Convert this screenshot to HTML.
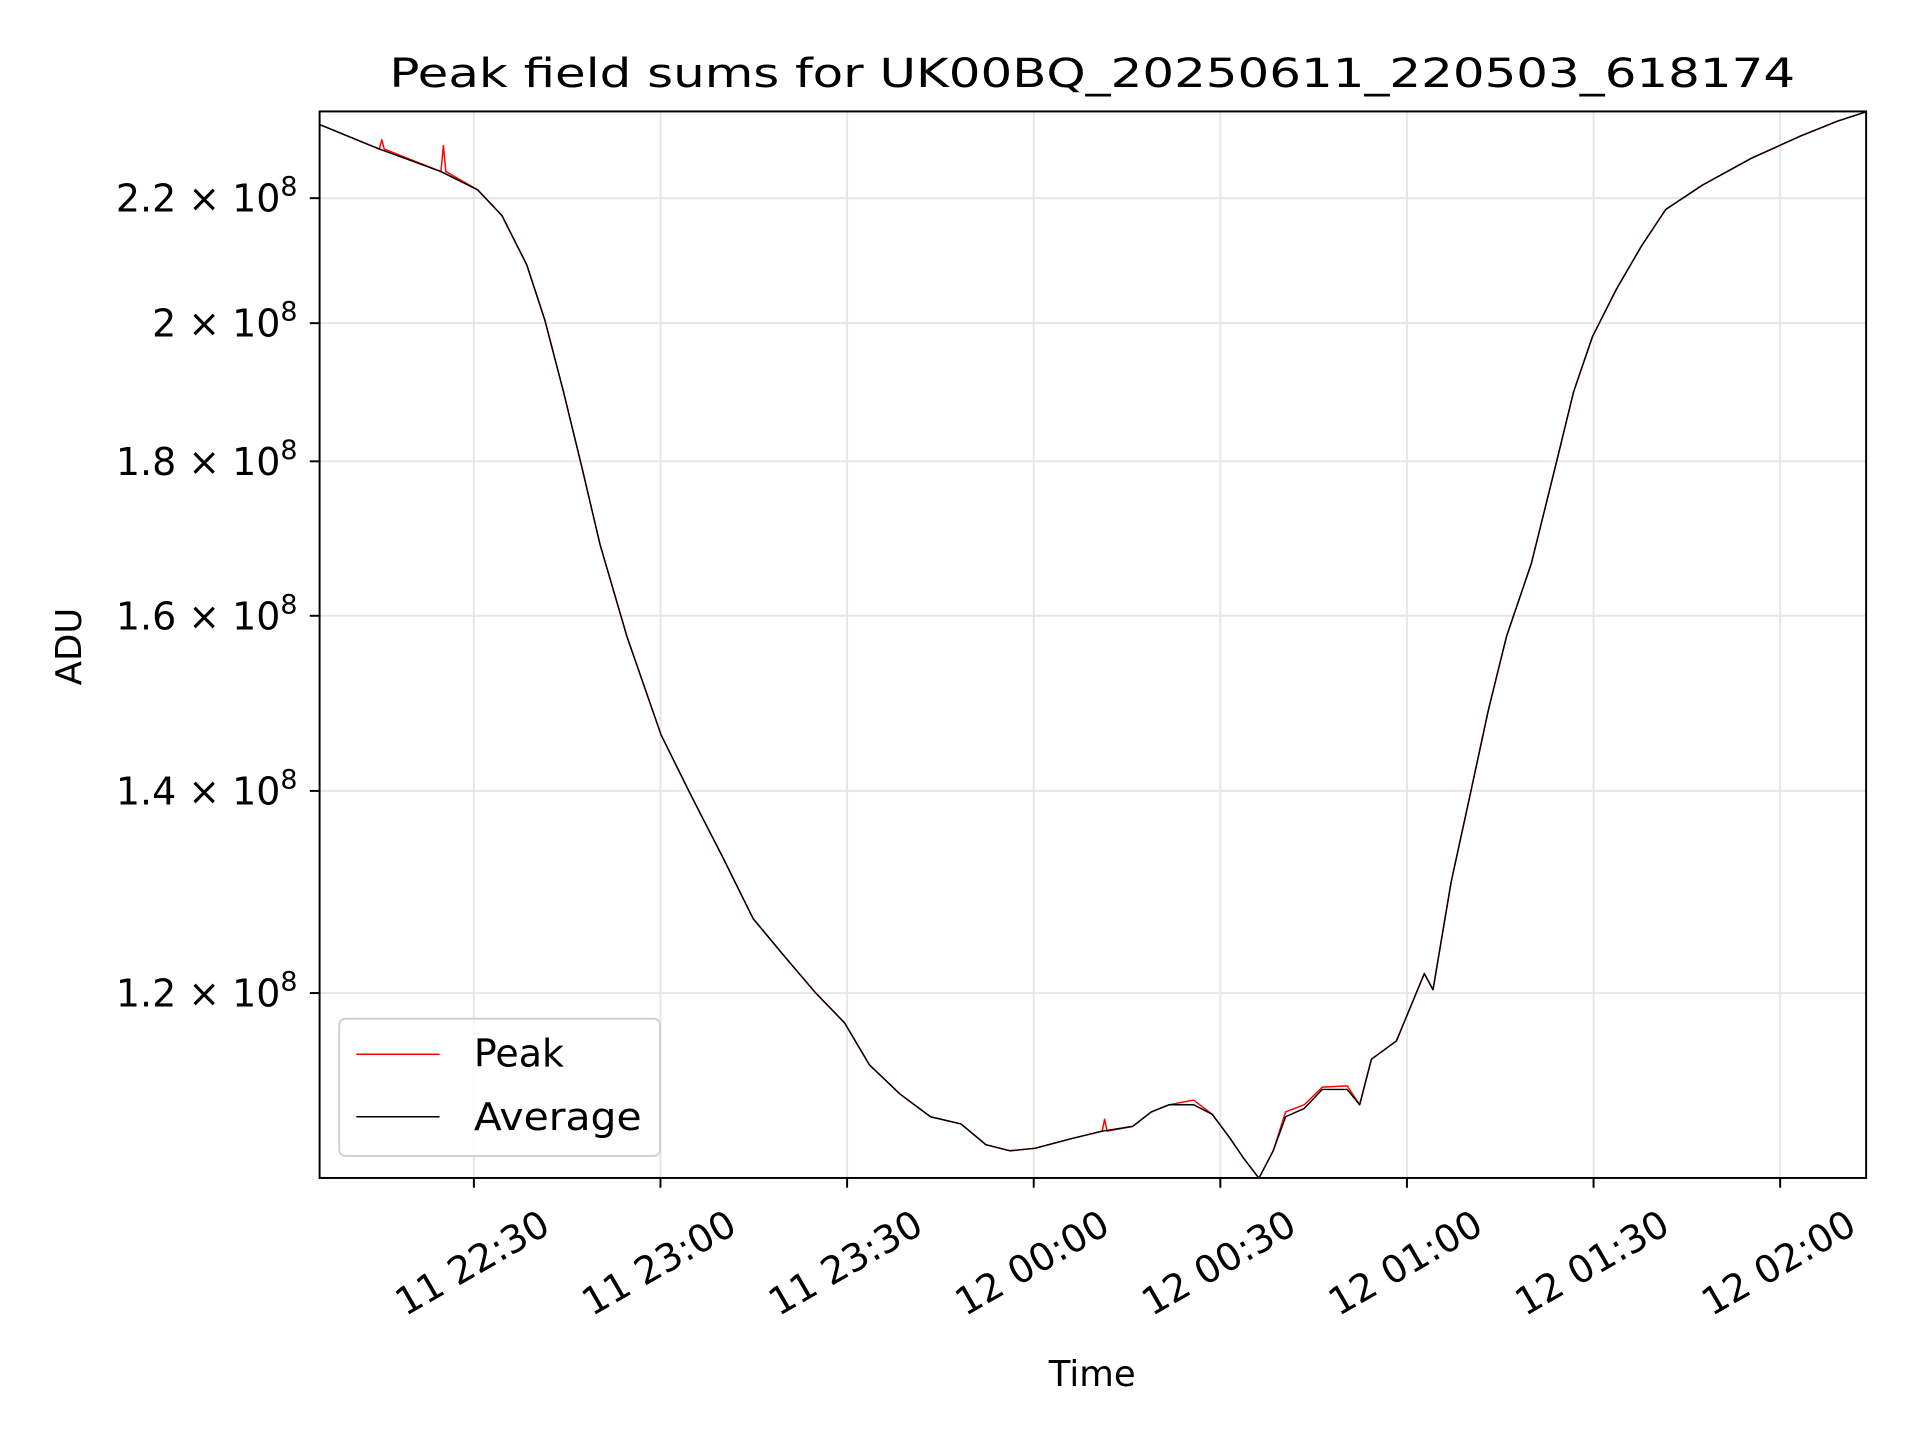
<!DOCTYPE html>
<html><head><meta charset="utf-8"><style>
html,body{margin:0;padding:0;background:#fff;}
svg{display:block;font-family:"DejaVu Sans","Liberation Sans",sans-serif;}
</style></head><body>
<svg id="chart" width="1920" height="1440" viewBox="0 0 1568 1176" xmlns="http://www.w3.org/2000/svg">
<rect x="0" y="0" width="1568" height="1176" fill="#fff"/>
<g id="grid"></g>
<g id="series"></g>
<rect x="261" y="91" width="1263" height="871" fill="none" stroke="#000" stroke-width="1.6"/>
<g id="xaxis"></g>
<g id="yaxis"></g>
<text x="892" y="71" font-size="33" text-anchor="middle" textLength="1148" lengthAdjust="spacingAndGlyphs">Peak field sums for UK00BQ_20250611_220503_618174</text>
<text x="892" y="1132" font-size="29" text-anchor="middle">Time</text>
<text x="0" y="0" font-size="29" text-anchor="middle" transform="translate(66,528) rotate(-90)">ADU</text>
<g>
<rect x="277" y="832" width="262" height="112" rx="5" fill="#fff" fill-opacity="0.8" stroke="#d0d0d0" stroke-width="1.6"/>
<line x1="291" y1="861" x2="359" y2="861" stroke="#ff0000" stroke-width="1.2"/>
<text x="387" y="871" font-size="31">Peak</text>
<line x1="291" y1="912" x2="359" y2="912" stroke="#000" stroke-width="1.2"/>
<text x="387" y="923" font-size="31" textLength="137" lengthAdjust="spacingAndGlyphs">Average</text>
</g>
</svg>
<script>
// minutes since 22:00 on day 11
const avgMinutes=[5.2,14.8,24.7,30.6,34.5,38.5,41.4,44.4,47.3,50.3,54.6,60.1,65,70,74.9,79.8,84.8,89.6,93.6,98.5,103.4,108.3,112.3,116.2,120.2,126.1,131,135.9,138.9,141.8,145.7,148.7,151.6,153.6,156.2,158.5,160.5,163.5,166.4,170.4,172.4,174.3,178.3,181.2,182.8,184.2,187.1,190.1,193.1,196,200,203.9,206.8,209.8,213.7,217.7,221.6,227.5,235.4,243.3,249.2,253.9];
// values in units of 1e8 ADU
const avgValues=[2.327,2.284,2.245,2.214,2.171,2.091,2.005,1.898,1.794,1.689,1.575,1.461,1.394,1.331,1.270,1.235,1.201,1.173,1.136,1.111,1.092,1.086,1.069,1.064,1.066,1.074,1.080,1.084,1.096,1.102,1.102,1.094,1.074,1.059,1.042,1.064,1.092,1.099,1.115,1.115,1.102,1.141,1.157,1.196,1.218,1.203,1.306,1.394,1.489,1.575,1.665,1.794,1.898,1.979,2.053,2.121,2.181,2.222,2.268,2.307,2.333,2.350];
const peakMinutes=[5.2,14.8,15.2,15.6,24.7,25.1,25.5,30.6,34.5,38.5,41.4,44.4,47.3,50.3,54.6,60.1,65,70,74.9,79.8,84.8,89.6,93.6,98.5,103.4,108.3,112.3,116.2,120.2,126.1,131,131.4,131.8,135.9,138.9,141.8,145.7,148.7,151.6,153.6,156.2,158.5,160.5,163.5,166.4,170.4,172.4,174.3,178.3,181.2,182.8,184.2,187.1,190.1,193.1,196,200,203.9,206.8,209.8,213.7,217.7,221.6,227.5,235.4,243.3,249.2,253.9];
const peakValues=[2.327,2.284,2.300,2.284,2.245,2.290,2.245,2.214,2.171,2.091,2.005,1.898,1.794,1.689,1.575,1.461,1.394,1.331,1.270,1.235,1.201,1.173,1.136,1.111,1.092,1.086,1.069,1.064,1.066,1.074,1.080,1.090,1.080,1.084,1.096,1.102,1.106,1.094,1.074,1.059,1.042,1.064,1.096,1.102,1.117,1.118,1.102,1.141,1.157,1.196,1.218,1.203,1.306,1.394,1.489,1.575,1.665,1.794,1.898,1.979,2.053,2.121,2.181,2.222,2.268,2.307,2.333,2.350];
const xTickMinutes=[30,60,90,120,150,180,210,240];
const xTickLabels=["11 22:30","11 23:00","11 23:30","12 00:00","12 00:30","12 01:00","12 01:30","12 02:00"];
const yTickValues=[1.2,1.4,1.6,1.8,2.0,2.2];
const yTickLabels=["1.2","1.4","1.6","1.8","2","2.2"];

const NS="http://www.w3.org/2000/svg";
const L=261,R=1524,T=91,B=962;
function xScale(m){return 387+(m-30)*152.4/30;}
function yScale(v){return 811-1071*Math.log(v/1.2);}
function mk(tag,attrs,parent){const e=document.createElementNS(NS,tag);for(const k in attrs)e.setAttribute(k,attrs[k]);parent.appendChild(e);return e;}
const grid=document.getElementById('grid'),xa=document.getElementById('xaxis'),ya=document.getElementById('yaxis'),ser=document.getElementById('series');
xTickMinutes.forEach((m,i)=>{
  const x=xScale(m);
  const g=mk('line',{x1:x,y1:T,x2:x,y2:B,stroke:'#e6e6e6','stroke-width':1.6},grid);
  
  
  const t=mk('line',{x1:x,y1:B,x2:x,y2:B+8,stroke:'#000','stroke-width':1.6},xa);
  
  
  const lb=mk('text',{x:0,y:0,'font-size':31,'text-anchor':'end',transform:`translate(${x+64},1006) rotate(-30)`},xa);
  lb.textContent=xTickLabels[i];
  
  
});
yTickValues.forEach((v,i)=>{
  const y=yScale(v);
  const g=mk('line',{x1:L,y1:y,x2:R,y2:y,stroke:'#e6e6e6','stroke-width':1.6},grid);
  
  
  const t=mk('line',{x1:L-8,y1:y,x2:L,y2:y,stroke:'#000','stroke-width':1.6},ya);
  
  
  const lb=mk('text',{x:L-18,y:y+11,'font-size':31,'text-anchor':'end'},ya);
  
  
  const t1=mk('tspan',{},lb);t1.textContent=yTickLabels[i]+" \u00d7 10";
  const t2=mk('tspan',{'font-size':22,dy:-13},lb);t2.textContent="8";
});
function path(ms,vs,color,name){
  let d='';ms.forEach((m,i)=>{d+=(i?'L':'M')+xScale(m).toFixed(1)+','+yScale(vs[i]).toFixed(1);});
  const p=mk('path',{d:d,fill:'none',stroke:color,'stroke-width':1.2,'stroke-linejoin':'round'},ser);
  
  
}
path(peakMinutes,peakValues,'#ff0000','peak-line');
path(avgMinutes,avgValues,'#000000','average-line');
</script>
</body></html>
